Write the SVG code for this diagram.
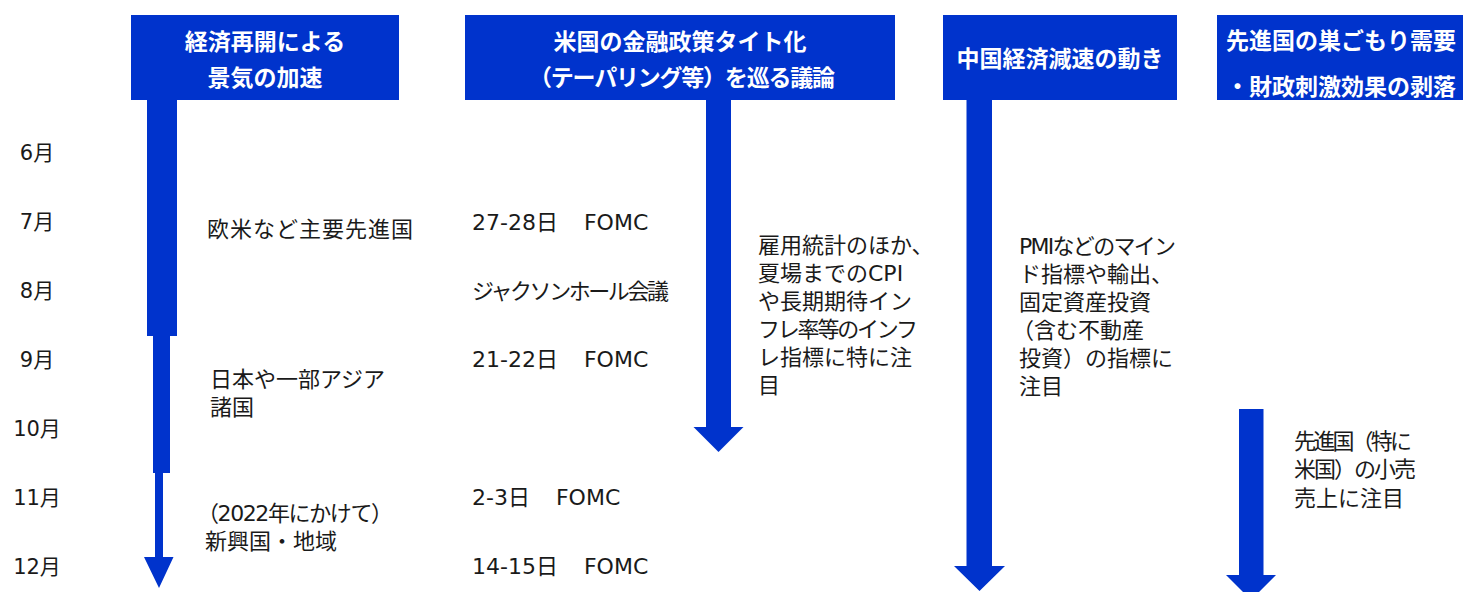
<svg xmlns="http://www.w3.org/2000/svg" width="1463" height="592" viewBox="0 0 1463 592">
<style>
.hdr{fill:#0033CC}
.ht{fill:#fff;font-family:"Noto Sans CJK JP",sans-serif;font-weight:bold;font-size:23px}
.bt{fill:#1a1a1a;font-family:"DejaVu Sans","Noto Sans CJK JP",sans-serif;font-size:22px}
.mt{fill:#1a1a1a;font-family:"DejaVu Sans","Noto Sans CJK JP",sans-serif;font-size:21px;text-anchor:middle}
.arr{fill:#0033CC}
</style>
<rect width="1463" height="592" fill="#fff"/>
<g id="connectors">
  <path class="arr" d="M147,100 H177 V336 H170 V473 H163 V557 H173.5 L159,588 L144,557 H155 V473 H153 V336 H147 Z"/>
  <path class="arr" d="M706,100 H731 V427 H743.5 L718.5,452 L693.5,427 H706 Z"/>
  <path class="arr" d="M966.5,100 H992 V566 H1005 L979.5,591 L954,566 H966.5 Z"/>
  <path class="arr" d="M1239,409 H1263.5 V575 H1276 L1251,600 L1226,575 H1239 Z"/>
</g>
<g id="months">
  <text class="mt" x="37" y="160">6月</text>
  <text class="mt" x="37" y="229">7月</text>
  <text class="mt" x="37" y="298">8月</text>
  <text class="mt" x="37" y="367">9月</text>
  <text class="mt" x="37" y="436">10月</text>
  <text class="mt" x="37" y="505">11月</text>
  <text class="mt" x="37" y="574">12月</text>
</g>
<g id="header1">
  <rect class="hdr" x="131" y="15" width="268" height="85"/>
  <text class="ht" x="265" y="50" text-anchor="middle">経済再開による</text>
  <text class="ht" x="265" y="86" text-anchor="middle">景気の加速</text>
</g>
<g id="header2">
  <rect class="hdr" x="465" y="15" width="430" height="85"/>
  <text class="ht" x="680" y="50" text-anchor="middle">米国の金融政策タイト化</text>
  <text class="ht" x="682" y="86" text-anchor="middle" textLength="306" lengthAdjust="spacing">（テーパリング等）を巡る議論</text>
</g>
<g id="header3">
  <rect class="hdr" x="943" y="15" width="234" height="85"/>
  <text class="ht" x="1060" y="67" text-anchor="middle">中国経済減速の動き</text>
</g>
<g id="header4">
  <rect class="hdr" x="1217" y="15" width="246" height="85"/>
  <text class="ht" x="1226" y="49">先進国の巣ごもり需要</text>
  <text class="ht" x="1226" y="95">・財政刺激効果の剥落</text>
</g>
<g id="col1">
  <text class="bt" x="207" y="237" textLength="206" lengthAdjust="spacing">欧米など主要先進国</text>
  <text class="bt" x="210" y="387">日本や一部アジア</text>
  <text class="bt" x="210" y="415">諸国</text>
  <text class="bt" x="197" y="521" textLength="196" lengthAdjust="spacing">（2022年にかけて）</text>
  <text class="bt" x="205" y="549">新興国・地域</text>
</g>
<g id="col2">
  <text class="bt" x="472" y="230">27-28日<tspan dx="26">FOMC</tspan></text>
  <text class="bt" x="472" y="299" textLength="197" lengthAdjust="spacing">ジャクソンホール会議</text>
  <text class="bt" x="472" y="367">21-22日<tspan dx="26">FOMC</tspan></text>
  <text class="bt" x="472" y="505">2-3日<tspan dx="26">FOMC</tspan></text>
  <text class="bt" x="472" y="574">14-15日<tspan dx="26">FOMC</tspan></text>
</g>
<g id="col3">
  <text class="bt" x="758" y="253">雇用統計のほか、</text>
  <text class="bt" x="758" y="281">夏場までのCPI</text>
  <text class="bt" x="758" y="309">や長期期待イン</text>
  <text class="bt" x="758" y="337" textLength="160" lengthAdjust="spacing">フレ率等のインフ</text>
  <text class="bt" x="758" y="365">レ指標に特に注</text>
  <text class="bt" x="758" y="393">目</text>
</g>
<g id="col4">
  <text class="bt" x="1019" y="254" textLength="157" lengthAdjust="spacing">PMIなどのマイン</text>
  <text class="bt" x="1019" y="282">ド指標や輸出、</text>
  <text class="bt" x="1019" y="310">固定資産投資</text>
  <text class="bt" x="1012" y="338">（含む不動産</text>
  <text class="bt" x="1019" y="366">投資）の指標に</text>
  <text class="bt" x="1019" y="394">注目</text>
</g>
<g id="col5">
  <text class="bt" x="1294" y="449" textLength="118" lengthAdjust="spacing">先進国（特に</text>
  <text class="bt" x="1294" y="477" textLength="122" lengthAdjust="spacing">米国）の小売</text>
  <text class="bt" x="1294" y="506">売上に注目</text>
</g>
</svg>
